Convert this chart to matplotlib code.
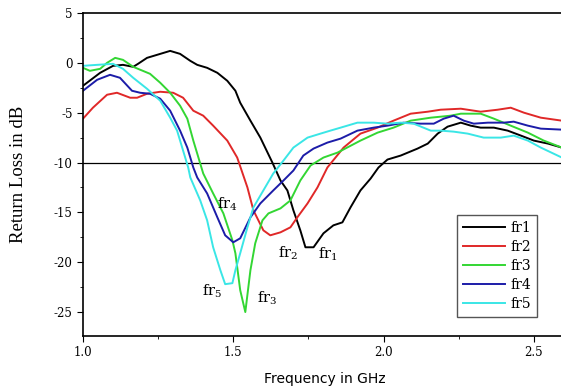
import numpy as np
import matplotlib
matplotlib.use('Agg')
import matplotlib.pyplot as plt
from matplotlib.ticker import MultipleLocator

# return loss curves (GHz, dB)
f1 = [1.0, 1.057, 1.1, 1.133, 1.167, 1.183, 1.213, 1.257, 1.29, 1.323, 1.357, 1.38, 1.413,
      1.447, 1.48, 1.507, 1.523, 1.557, 1.59, 1.63, 1.657, 1.68, 1.70, 1.723, 1.74, 1.767,
      1.8, 1.833, 1.863, 1.89, 1.923, 1.957, 1.983, 2.013, 2.057, 2.113, 2.147, 2.18, 2.213,
      2.257, 2.29, 2.323, 2.367, 2.413, 2.457, 2.5, 2.547, 2.593]
s1 = [-2.3, -1.0, -0.3, -0.2, -0.4, -0.1, 0.5, 0.9, 1.2, 0.9, 0.2, -0.2, -0.5,
      -1.0, -1.8, -2.8, -4.0, -5.8, -7.5, -10.0, -11.8, -12.8, -14.8, -16.8, -18.5, -18.5,
      -17.1, -16.3, -16.0, -14.5, -12.8, -11.6, -10.5, -9.7, -9.3, -8.6, -8.1, -7.1, -6.4,
      -6.0, -6.3, -6.5, -6.5, -6.8, -7.3, -7.8, -8.1, -8.5]

f2 = [1.0, 1.033, 1.08, 1.113, 1.157, 1.18, 1.213, 1.257, 1.3, 1.333, 1.367, 1.4, 1.433,
      1.48, 1.513, 1.547, 1.567, 1.6, 1.623, 1.657, 1.69, 1.713, 1.747, 1.78, 1.813, 1.867,
      1.923, 1.98, 2.033, 2.09, 2.147, 2.19, 2.257, 2.323, 2.38, 2.423, 2.467, 2.523, 2.593]
s2 = [-5.6, -4.5, -3.2, -3.0, -3.5, -3.5, -3.1, -2.9, -3.0, -3.5, -4.8, -5.3, -6.3,
      -7.8, -9.5, -12.5, -14.8, -16.8, -17.3, -17.0, -16.5, -15.5, -14.1, -12.5, -10.5, -8.5,
      -7.1, -6.5, -5.8, -5.1, -4.9, -4.7, -4.6, -4.9, -4.7, -4.5, -5.0, -5.5, -5.8]

f3 = [1.0, 1.023, 1.057, 1.08, 1.107, 1.133, 1.167, 1.223, 1.257, 1.29, 1.323, 1.347, 1.367,
      1.38, 1.4, 1.433, 1.467, 1.497, 1.507, 1.523, 1.54, 1.557, 1.573, 1.597, 1.617, 1.657,
      1.69, 1.723, 1.757, 1.8, 1.847, 1.923, 1.98, 2.033, 2.09, 2.157, 2.223, 2.257, 2.323,
      2.367, 2.423, 2.48, 2.533, 2.593]
s3 = [-0.5, -0.8, -0.6, 0.0, 0.5, 0.3, -0.4, -1.1, -2.0, -3.0, -4.3, -5.6, -7.8,
      -9.1, -11.1, -13.1, -15.1, -17.8, -19.1, -22.8, -25.0, -20.8, -18.1, -15.8, -15.1, -14.6,
      -13.8, -11.8, -10.3, -9.5, -9.0, -7.8, -7.0, -6.5, -5.8, -5.5, -5.3, -5.1, -5.1,
      -5.6, -6.3, -7.0, -7.8, -8.5]

f4 = [1.0, 1.047, 1.09, 1.123, 1.163, 1.19, 1.223, 1.257, 1.29, 1.323, 1.347, 1.367, 1.38,
      1.413, 1.447, 1.473, 1.5, 1.523, 1.557, 1.59, 1.633, 1.667, 1.7, 1.733, 1.767, 1.813,
      1.857, 1.913, 1.967, 2.013, 2.067, 2.123, 2.167, 2.2, 2.233, 2.267, 2.3, 2.347, 2.4,
      2.433, 2.48, 2.523, 2.593]
s4 = [-2.8, -1.7, -1.2, -1.5, -2.8, -3.0, -3.1, -3.6, -4.8, -6.8, -8.5, -10.5, -11.5,
      -13.1, -15.5, -17.3, -18.0, -17.6, -15.5, -14.1, -12.8, -11.8, -10.8, -9.3, -8.6, -8.0,
      -7.6, -6.8, -6.5, -6.3, -6.0, -6.1, -6.1, -5.6, -5.3, -5.8, -6.1, -6.0, -6.0,
      -5.9, -6.3, -6.6, -6.7]

f5 = [1.0, 1.047, 1.1, 1.133, 1.167, 1.213, 1.257, 1.29, 1.313, 1.333, 1.35, 1.357, 1.39,
      1.413, 1.433, 1.457, 1.473, 1.497, 1.507, 1.523, 1.547, 1.567, 1.6, 1.633, 1.667, 1.7,
      1.747, 1.79, 1.823, 1.857, 1.913, 1.967, 2.013, 2.057, 2.1, 2.157, 2.19, 2.233, 2.28,
      2.333, 2.39, 2.433, 2.48, 2.523, 2.593]
s5 = [-0.3, -0.2, -0.1, -0.6, -1.5, -2.6, -3.8, -5.5, -6.8, -8.8, -10.5, -11.5, -13.8,
      -15.8, -18.5, -20.8, -22.2, -22.1, -20.8, -19.1, -16.5, -14.5, -12.8, -11.1, -9.8, -8.5,
      -7.5, -7.1, -6.8, -6.5, -6.0, -6.0, -6.1, -6.0, -6.1, -6.8, -6.8, -6.9, -7.1,
      -7.5, -7.5, -7.3, -7.8, -8.5, -9.5]

names = ['fr1', 'fr2', 'fr3', 'fr4', 'fr5']
colors = ['#000000', '#e02828', '#33d633', '#1c1ca8', '#3ae6e6']

# resonance labels (text, x, y)
ann_text = [r'fr$_1$', r'fr$_2$', r'fr$_3$', r'fr$_4$', r'fr$_5$']
ann_x = [1.813, 1.683, 1.613, 1.48, 1.43]
ann_y = [-19.2, -19.1, -23.6, -14.2, -22.9]

plt.rcParams['mathtext.fontset'] = 'dejavuserif'

fig = plt.figure(figsize=(5.61, 3.89), dpi=100)
ax = fig.add_axes([83/561, 1-336/389, 1-83/561 + 0.01, (336-13)/389])

ax.axhline(-10, color='black', lw=0.9, zorder=1)
for f, s, c, n in zip([f1, f2, f3, f4, f5], [s1, s2, s3, s4, s5], colors, names):
    ax.plot(f, s, color=c, lw=1.4, label=n)

for t, x, y in zip(ann_text, ann_x, ann_y):
    ax.text(x, y, t, fontsize=10.5, family='DejaVu Serif', ha='center', va='center')

ax.set_xlim(1.0, 2.593 + 0.01 * 1.593)
ax.set_ylim(-27.4, 5)
ax.xaxis.set_major_locator(MultipleLocator(0.5))
ax.xaxis.set_minor_locator(MultipleLocator(0.25))
ax.yaxis.set_major_locator(MultipleLocator(5))
ax.yaxis.set_minor_locator(MultipleLocator(2.5))
ax.tick_params(which='both', direction='out', labelsize=8.5)
ax.tick_params(which='major', length=4)
ax.tick_params(which='minor', length=2.5)
ax.set_xticks([1.0, 1.5, 2.0, 2.5])
ax.set_xticklabels(['1.0', '1.5', '2.0', '2.5'], family='DejaVu Serif')
ax.set_yticks([5, 0, -5, -10, -15, -20, -25])
ax.set_yticklabels(['5', '0', '-5', '-10', '-15', '-20', '-25'], family='DejaVu Serif')
for sp in ['left', 'bottom', 'top']:
    ax.spines[sp].set_linewidth(1.2)
ax.spines['right'].set_visible(False)

ax.set_xlabel('Frequency in GHz', fontsize=10, family='DejaVu Sans', labelpad=9)
ax.set_ylabel('Return Loss in dB', fontsize=13.5, family='Liberation Serif', labelpad=19)

leg = ax.legend(loc='lower left', bbox_to_anchor=(0.773, 0.059), borderaxespad=0,
                fancybox=False, framealpha=1, edgecolor='#555555', handlelength=3.0,
                handletextpad=0.4, borderpad=0.45,
                prop={'family': 'DejaVu Serif', 'size': 10}, labelspacing=0.35)
leg.get_frame().set_linewidth(1.0)

fig.savefig('out.png', dpi=100)
